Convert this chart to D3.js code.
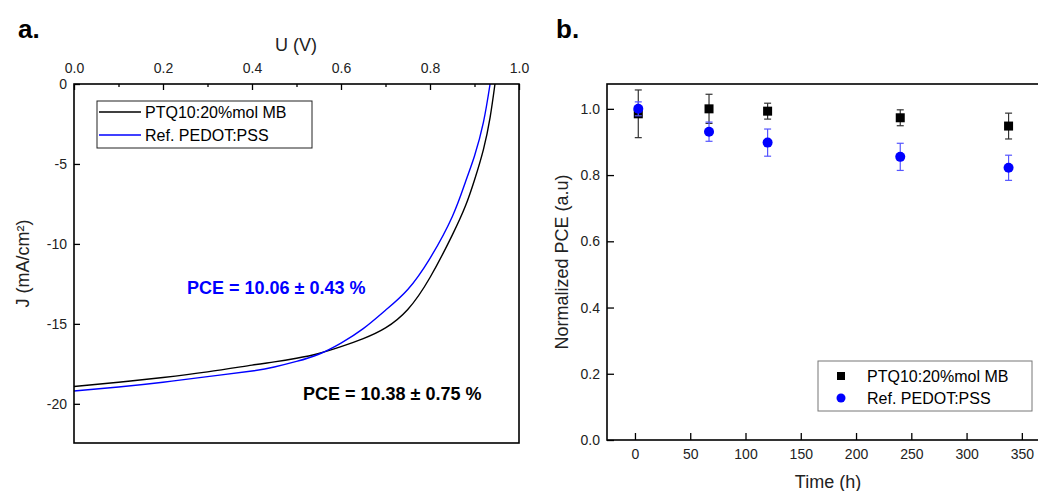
<!DOCTYPE html>
<html>
<head>
<meta charset="utf-8">
<script src="https://cdn.jsdelivr.net/npm/d3@7"></script>
<style>
  body { margin: 0; background: #fff; }
  text { font-family: Arial, "Liberation Sans", sans-serif; }
</style>
</head>
<body>
<div id="plot"></div>
<script>
// J-V data (panel a)
const voltsMB   = [0, 0.1, 0.2, 0.3, 0.4, 0.45, 0.5, 0.55, 0.6, 0.65, 0.7, 0.75, 0.8, 0.85, 0.88, 0.9, 0.92, 0.935, 0.946];
const currentMB = [-18.92, -18.65, -18.35, -18.0, -17.58, -17.38, -17.15, -16.85, -16.42, -15.92, -15.25, -14.1, -12.1, -9.45, -7.6, -6.0, -4.1, -2.1, 0];
const voltsRef   = [0, 0.1, 0.2, 0.3, 0.4, 0.45, 0.5, 0.55, 0.6, 0.65, 0.7, 0.75, 0.8, 0.85, 0.88, 0.9, 0.92, 0.935];
const currentRef = [-19.2, -18.95, -18.65, -18.3, -17.95, -17.7, -17.35, -16.9, -16.2, -15.3, -14.15, -12.85, -10.9, -8.3, -6.1, -4.5, -2.4, 0];

// stability data (panel b)
const hours    = [3, 67, 120, 240, 338];
const pceMB    = [0.985, 1.0, 0.993, 0.973, 0.948];
const errMB    = [0.072, 0.044, 0.024, 0.024, 0.039];
const pceRef   = [1.0, 0.931, 0.898, 0.855, 0.822];
const errRef   = [0.021, 0.029, 0.041, 0.041, 0.038];

const seriesNames = ["PTQ10:20%mol MB", "Ref. PEDOT:PSS"];
const seriesColors = ["#000000", "#0000ff"];

const width = 1038, height = 491;

const svg = d3.select("#plot")
    .append("svg")
    .attr("width", width)
    .attr("height", height);

svg.append("rect").attr("width", width).attr("height", height).attr("fill", "#fff");

// ---------------- panel a ----------------
const xA = d3.scaleLinear().domain([0, 1]).range([74, 519]);
const yA = d3.scaleLinear().domain([-22.45, 0]).range([443, 84]);

const gA = svg.append("g");

// minor ticks on top
gA.append("g")
    .attr("transform", `translate(0,${yA(0)})`)
    .call(d3.axisTop(xA).tickValues([0.1, 0.3, 0.5, 0.7, 0.9]).tickSize(-3).tickFormat(""))
    .call(g => g.select(".domain").remove());

gA.append("g")
    .attr("transform", `translate(0,${yA(0)})`)
    .call(d3.axisTop(xA).tickValues([0, 0.2, 0.4, 0.6, 0.8, 1.0]).tickSize(-6).tickPadding(11)
        .tickFormat(d3.format(".1f")))
    .call(g => g.select(".domain").remove())
    .call(g => g.selectAll("text").style("font-size", "14px").attr("fill", "#222"));

gA.append("g")
    .attr("transform", `translate(${xA(0)},0)`)
    .call(d3.axisLeft(yA).tickValues([0, -5, -10, -15, -20]).tickSize(-6).tickPadding(7)
        .tickFormat(d => String(d)))
    .call(g => g.select(".domain").remove())
    .call(g => g.selectAll("text").style("font-size", "14px").attr("fill", "#222"));

gA.selectAll(".tick line").attr("stroke", "#000").attr("stroke-width", 1.3);

const lineA = d3.line().curve(d3.curveNatural).x(d => xA(d[0])).y(d => yA(d[1]));

gA.append("path")
    .datum(d3.zip(voltsMB, currentMB))
    .attr("d", lineA)
    .attr("fill", "none").attr("stroke", seriesColors[0]).attr("stroke-width", 1.4);

gA.append("path")
    .datum(d3.zip(voltsRef, currentRef))
    .attr("d", lineA)
    .attr("fill", "none").attr("stroke", seriesColors[1]).attr("stroke-width", 1.4);

// frame
gA.append("rect")
    .attr("x", xA(0)).attr("y", yA(0))
    .attr("width", xA(1) - xA(0)).attr("height", yA(-22.45) - yA(0))
    .attr("fill", "none").attr("stroke", "#000").attr("stroke-width", 1.6);

// legend a
gA.append("rect")
    .attr("x", 97).attr("y", 101).attr("width", 215).attr("height", 47)
    .attr("fill", "#fff").attr("stroke", "#222").attr("stroke-width", 1);
seriesNames.forEach((name, i) => {
    const y = 112 + i * 23;
    gA.append("line").attr("x1", 99).attr("x2", 141).attr("y1", y).attr("y2", y)
        .attr("stroke", seriesColors[i]).attr("stroke-width", 1.4);
    gA.append("text").attr("x", 145).attr("y", y + 6)
        .style("font-size", "16px").attr("fill", "#000").text(name);
});

gA.append("text").attr("x", 187).attr("y", 294)
    .style("font-size", "18px").style("font-weight", "bold").attr("fill", "#0000ff")
    .text("PCE = 10.06 ± 0.43 %");
gA.append("text").attr("x", 303).attr("y", 400)
    .style("font-size", "18px").style("font-weight", "bold").attr("fill", "#000")
    .text("PCE = 10.38 ± 0.75 %");

// titles
svg.append("text").attr("x", 296).attr("y", 51).attr("text-anchor", "middle")
    .style("font-size", "18px").attr("fill", "#222").text("U (V)");
svg.append("text")
    .attr("transform", `translate(29,${(84 + 443) / 2}) rotate(-90)`)
    .attr("text-anchor", "middle")
    .style("font-size", "18px").attr("fill", "#222").text("J (mA/cm²)");
svg.append("text").attr("x", 18).attr("y", 38)
    .style("font-size", "26px").style("font-weight", "bold").attr("fill", "#000").text("a.");

// ---------------- panel b ----------------
const xB = d3.scaleLinear().domain([-25.3, 380]).range([607, 1055]);
const yB = d3.scaleLinear().domain([0, 1.075]).range([440, 84]);

const gB = svg.append("g");

gB.append("g")
    .attr("transform", `translate(0,${yB(0)})`)
    .call(d3.axisBottom(xB).tickValues(d3.range(0, 351, 50)).tickSize(-7).tickPadding(9))
    .call(g => g.select(".domain").remove())
    .call(g => g.selectAll("text").style("font-size", "14px").attr("fill", "#222"));

gB.append("g")
    .attr("transform", `translate(${xB(-25.3)},0)`)
    .call(d3.axisLeft(yB).tickValues(d3.range(0, 1.01, 0.2)).tickSize(-7).tickPadding(7)
        .tickFormat(d3.format(".1f")))
    .call(g => g.select(".domain").remove())
    .call(g => g.selectAll("text").style("font-size", "14px").attr("fill", "#222"));

gB.selectAll(".tick line").attr("stroke", "#000").attr("stroke-width", 1.3);

gB.append("rect")
    .attr("x", xB(-25.3)).attr("y", yB(1.075))
    .attr("width", xB(380) - xB(-25.3)).attr("height", yB(0) - yB(1.075))
    .attr("fill", "none").attr("stroke", "#000").attr("stroke-width", 1.6);

function errorBars(vals, errs, color) {
    const g = gB.append("g").attr("stroke", color).attr("stroke-width", 1.2);
    hours.forEach((t, i) => {
        const x = xB(t), y0 = yB(vals[i] - errs[i]), y1 = yB(vals[i] + errs[i]);
        g.append("line").attr("x1", x).attr("x2", x).attr("y1", y0).attr("y2", y1);
        g.append("line").attr("x1", x - 3.5).attr("x2", x + 3.5).attr("y1", y0).attr("y2", y0);
        g.append("line").attr("x1", x - 3.5).attr("x2", x + 3.5).attr("y1", y1).attr("y2", y1);
    });
}

errorBars(pceMB, errMB, "#333");
gB.selectAll("rect.sq")
    .data(d3.zip(hours, pceMB))
    .enter().append("rect").attr("class", "sq")
    .attr("x", d => xB(d[0]) - 4.5).attr("y", d => yB(d[1]) - 4.5)
    .attr("width", 9).attr("height", 9).attr("fill", "#000");

errorBars(pceRef, errRef, "#5555ff");
gB.selectAll("circle.pt")
    .data(d3.zip(hours, pceRef))
    .enter().append("circle").attr("class", "pt")
    .attr("cx", d => xB(d[0])).attr("cy", d => yB(d[1]))
    .attr("r", 5).attr("fill", "#0000ff");

// legend b
gB.append("rect")
    .attr("x", 818).attr("y", 361).attr("width", 214).attr("height", 50)
    .attr("fill", "#fff").attr("stroke", "#777").attr("stroke-width", 1);
gB.append("rect").attr("x", 837).attr("y", 372).attr("width", 8).attr("height", 8).attr("fill", "#000");
gB.append("circle").attr("cx", 841).attr("cy", 398).attr("r", 4.5).attr("fill", "#0000ff");
seriesNames.forEach((name, i) => {
    gB.append("text").attr("x", 867).attr("y", 382 + i * 22)
        .style("font-size", "16px").attr("fill", "#000").text(name);
});

svg.append("text").attr("x", 828).attr("y", 488).attr("text-anchor", "middle")
    .style("font-size", "18px").attr("fill", "#222").text("Time (h)");
svg.append("text")
    .attr("transform", `translate(568,${(84 + 440) / 2}) rotate(-90)`)
    .attr("text-anchor", "middle")
    .style("font-size", "18px").attr("fill", "#222").text("Normalized PCE (a.u)");
svg.append("text").attr("x", 556).attr("y", 38)
    .style("font-size", "26px").style("font-weight", "bold").attr("fill", "#000").text("b.");
</script>
</body>
</html>
